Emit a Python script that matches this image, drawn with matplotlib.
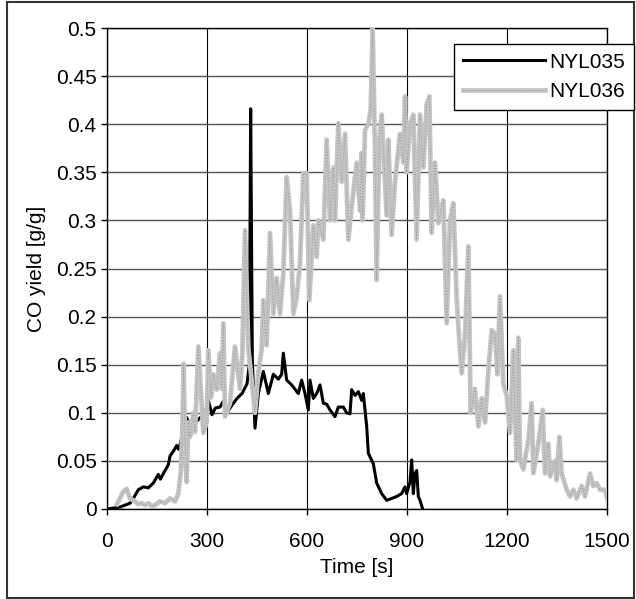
"""
CO yield vs time for NYL035 and NYL036.
"""
import matplotlib
matplotlib.use("Agg")
import matplotlib.pyplot as plt
from matplotlib.patches import Rectangle

FONT_SIZE = 15

plt.rc('font', family=['Liberation Sans', 'DejaVu Sans'], size=FONT_SIZE)

# NYL035 (black line)
t_035 = [0, 20, 39, 54, 69, 79, 94, 109, 124, 139, 154, 160, 174, 184, 189, 199,
         209, 215, 225, 234, 239, 250, 265, 280, 295, 304, 315, 325, 339, 349, 360,
         375, 390, 405, 420, 427, 431, 436, 444, 454, 469, 484, 499, 514, 524, 529,
         539, 554, 574, 584, 594, 604, 609, 619, 629, 639, 649, 659, 669, 684, 694,
         709, 719, 729, 734, 744, 754, 764, 769, 771, 779, 784, 799, 809, 824, 839,
         854, 869, 884, 894, 899, 909, 914, 919, 924, 929, 934, 939, 947]
co_035 = [0.0, 0.001, 0.002, 0.004, 0.006, 0.011, 0.020, 0.023, 0.022, 0.027, 0.036,
          0.031, 0.040, 0.046, 0.055, 0.060, 0.066, 0.062, 0.075, 0.090, 0.095, 0.085,
          0.090, 0.095, 0.100, 0.113, 0.098, 0.105, 0.106, 0.112, 0.100, 0.108, 0.115,
          0.120, 0.130, 0.150, 0.416, 0.155, 0.084, 0.120, 0.143, 0.120, 0.140, 0.135,
          0.140, 0.162, 0.134, 0.129, 0.120, 0.134, 0.120, 0.103, 0.134, 0.115, 0.120,
          0.129, 0.110, 0.109, 0.103, 0.096, 0.106, 0.106, 0.100, 0.099, 0.124, 0.118,
          0.122, 0.113, 0.120, 0.113, 0.086, 0.058, 0.047, 0.027, 0.016, 0.009, 0.011,
          0.013, 0.016, 0.023, 0.016, 0.028, 0.051, 0.016, 0.037, 0.040, 0.013, 0.009,
          0.0]

# NYL036 (grey line)
t_036 = [30, 40, 49, 59, 69, 84, 94, 104, 114, 124, 134, 144, 159, 174, 189, 204, 214,
         222, 226, 230, 234, 239, 244, 249, 259, 264, 274, 282, 289, 299, 304, 312, 319,
         329, 339, 344, 349, 354, 369, 384, 399, 406, 414, 424, 434, 444, 454, 464, 469,
         479, 489, 499, 509, 519, 529, 539, 549, 559, 569, 579, 589, 599, 607, 619, 629,
         634, 649, 659, 669, 679, 684, 694, 704, 714, 724, 739, 749, 759, 764, 767, 774,
         784, 791, 797, 804, 809, 817, 824, 839, 844, 854, 864, 879, 889, 894, 899, 909,
         919, 929, 939, 949, 959, 967, 974, 984, 994, 1009, 1019, 1029, 1039, 1049, 1054,
         1064, 1074, 1084, 1091, 1104, 1114, 1124, 1134, 1144, 1154, 1164, 1171, 1179,
         1189, 1199, 1209, 1219, 1224, 1229, 1234, 1239, 1249, 1264, 1274, 1279, 1294,
         1307, 1314, 1324, 1329, 1344, 1349, 1357, 1364, 1379, 1389, 1399, 1409, 1424,
         1434, 1449, 1459, 1469, 1479, 1494, 1500]
co_036 = [0.005, 0.012, 0.018, 0.021, 0.011, 0.008, 0.005, 0.006, 0.004, 0.006, 0.003,
          0.004, 0.008, 0.006, 0.011, 0.008, 0.016, 0.041, 0.086, 0.151, 0.070, 0.028,
          0.090, 0.075, 0.100, 0.080, 0.169, 0.120, 0.079, 0.090, 0.165, 0.116, 0.140,
          0.124, 0.162, 0.125, 0.193, 0.096, 0.110, 0.169, 0.125, 0.160, 0.290, 0.167,
          0.134, 0.100, 0.142, 0.166, 0.217, 0.170, 0.287, 0.203, 0.240, 0.203, 0.245,
          0.345, 0.310, 0.203, 0.220, 0.255, 0.349, 0.349, 0.217, 0.295, 0.262, 0.300,
          0.280, 0.384, 0.300, 0.355, 0.300, 0.401, 0.340, 0.390, 0.280, 0.330, 0.360,
          0.310, 0.370, 0.300, 0.394, 0.400, 0.415, 0.500, 0.370, 0.238, 0.385, 0.410,
          0.305, 0.384, 0.285, 0.340, 0.390, 0.360, 0.429, 0.350, 0.400, 0.410, 0.280,
          0.410, 0.355, 0.420, 0.429, 0.287, 0.360, 0.297, 0.321, 0.193, 0.300, 0.318,
          0.220, 0.190, 0.141, 0.180, 0.273, 0.100, 0.125, 0.086, 0.115, 0.090, 0.143,
          0.186, 0.182, 0.140, 0.221, 0.130, 0.118, 0.079, 0.165, 0.100, 0.051, 0.178,
          0.051, 0.041, 0.072, 0.110, 0.037, 0.068, 0.103, 0.037, 0.068, 0.034, 0.050,
          0.030, 0.075, 0.037, 0.020, 0.013, 0.020, 0.011, 0.024, 0.013, 0.037, 0.024,
          0.027, 0.020, 0.020, 0.011]

x_ticks = [0, 300, 600, 900, 1200, 1500]
y_ticks = [0, 0.05, 0.1, 0.15, 0.2, 0.25, 0.3, 0.35, 0.4, 0.45, 0.5]
y_tick_labels = ['0', '0.05', '0.1', '0.15', '0.2', '0.25', '0.3', '0.35', '0.4',
                 '0.45', '0.5']

fig = plt.figure(figsize=(6.36, 5.99), dpi=100)
ax = fig.add_axes([107 / 636, 1 - 509 / 599, 500 / 636, 481 / 599])

line_035, = ax.plot(t_035, co_035, color='black', lw=2.2, zorder=3)
line_036, = ax.plot(t_036, co_036, color='#c4c4c4', lw=3.4, zorder=4)
# darker speckle on top of the grey line, like the hatched excel line
dots_036, = ax.plot(t_036, co_036, color='#8a8a8a', lw=0.6, ls=(0, (1, 2.5)), zorder=5)

ax.set_xlim(0, 1500)
ax.set_ylim(0, 0.5)
ax.set_xticks(x_ticks)
ax.set_yticks(y_ticks)
ax.set_yticklabels(y_tick_labels)
ax.tick_params(direction='out', length=4.5, width=1)
ax.tick_params(axis='x', pad=12)
ax.tick_params(axis='y', pad=3)

ax.grid(True, axis='y', color='#555555', lw=1.0, zorder=0)
ax.grid(True, axis='x', color='black', lw=0.8, zorder=0)
ax.set_axisbelow(True)
for sp in ax.spines.values():
    sp.set_linewidth(1.0)
    sp.set_color('black')

ax.set_xlabel('Time [s]', labelpad=5)
ax.set_ylabel('CO yield [g/g]', labelpad=7)

leg = fig.legend([line_035, (line_036, dots_036)], ['NYL035', 'NYL036'],
                 loc='upper right', bbox_to_anchor=(634 / 636, 1 - 44 / 599),
                 bbox_transform=fig.transFigure, fancybox=False, framealpha=1,
                 edgecolor='black', handlelength=3.95, handletextpad=0.2,
                 labelspacing=0.5, borderpad=0.42, borderaxespad=0)
leg.get_frame().set_linewidth(1.0)

# outer frame around the whole chart
fig.patches.append(Rectangle((6.5 / 636, 1 - 597.5 / 599), 627.5 / 636, 596 / 599,
                             transform=fig.transFigure, fill=False,
                             edgecolor='#333333', lw=1.5))

plt.savefig('out.png', dpi=100)
plt.close(fig)
